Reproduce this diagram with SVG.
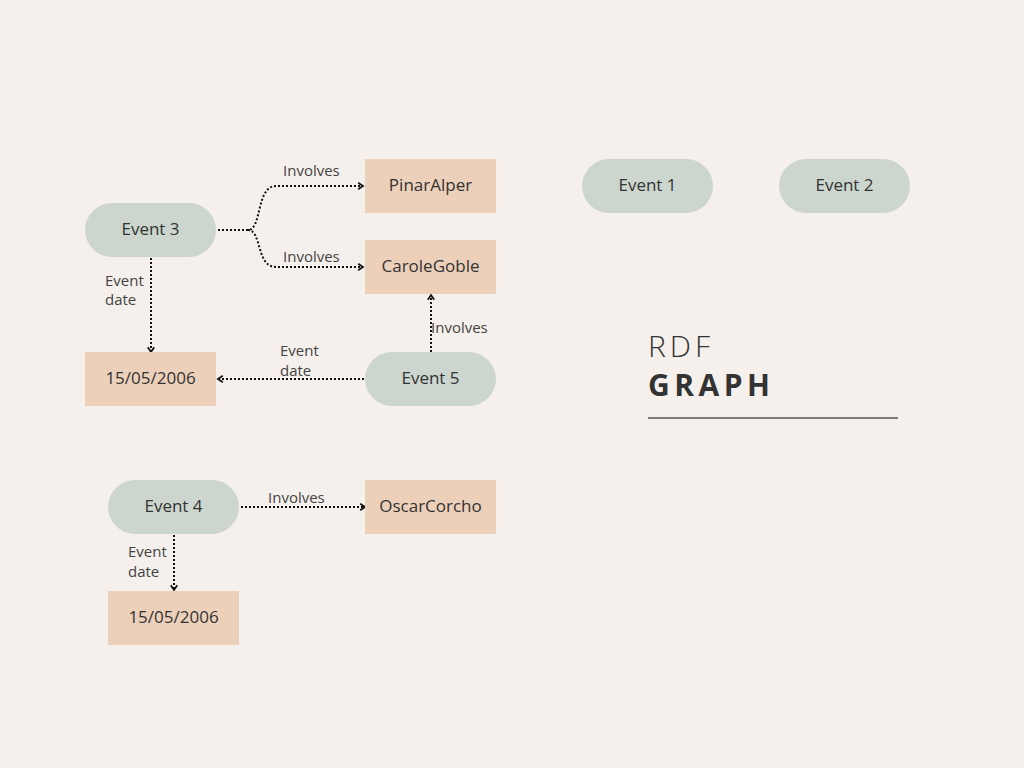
<svg xmlns="http://www.w3.org/2000/svg" width="1024" height="768" viewBox="0 0 1024 768">
<defs>
<style>
.pill{fill:#ccd6ce}
.box{fill:#edd0b9}
.nt{font-family:"Open Sans","Liberation Sans",sans-serif;font-size:17px;fill:#333;text-anchor:middle;dominant-baseline:central}
.lb{font-family:"Open Sans","Liberation Sans",sans-serif;font-size:15px;fill:#444}
.con{fill:none;stroke:#111;stroke-width:2;stroke-dasharray:2 2}
</style>
<marker id="ah" viewBox="0 0 10 10" refX="8" refY="5" markerWidth="8" markerHeight="8" markerUnits="userSpaceOnUse" orient="auto">
<path d="M2,1 L8,5 L2,9" fill="none" stroke="#111" stroke-width="2.2"/>
</marker>
</defs>
<rect width="1024" height="768" fill="#f5f0eb"/>

<g id="connectors">
<path class="con" d="M218,230 L248,230 C262,230 256,186 276,186 L363,186" marker-end="url(#ah)"/>
<path class="con" d="M248,230 C262,230 256,267 276,267 L363,267" marker-end="url(#ah)"/>
<path class="con" d="M151,258 L151,352" marker-end="url(#ah)"/>
<path class="con" d="M431,352 L431,295" marker-end="url(#ah)"/>
<path class="con" d="M364,379 L218,379" marker-end="url(#ah)"/>
<path class="con" d="M241,507 L365,507" marker-end="url(#ah)"/>
<path class="con" d="M174,535 L174,590" marker-end="url(#ah)"/>
<text class="lb" x="283" y="176">Involves</text>
<text class="lb" x="283" y="262">Involves</text>
<text class="lb" x="105" y="286">Event</text>
<text class="lb" x="105" y="305">date</text>
<text class="lb" x="431" y="333">Involves</text>
<text class="lb" x="280" y="356">Event</text>
<text class="lb" x="280" y="376">date</text>
<text class="lb" x="268" y="503">Involves</text>
<text class="lb" x="128" y="557">Event</text>
<text class="lb" x="128" y="577">date</text>
</g>

<g id="event3"><rect class="pill" x="85" y="203" width="131" height="54" rx="27"/><text class="nt" x="150.5" y="228">Event 3</text></g>
<g id="pinaralper"><rect class="box" x="365" y="159" width="131" height="54"/><text class="nt" x="430.5" y="184">PinarAlper</text></g>
<g id="carolegoble"><rect class="box" x="365" y="240" width="131" height="54"/><text class="nt" x="430.5" y="265">CaroleGoble</text></g>
<g id="event1"><rect class="pill" x="582" y="159" width="131" height="54" rx="27"/><text class="nt" x="647.5" y="184">Event 1</text></g>
<g id="event2"><rect class="pill" x="779" y="159" width="131" height="54" rx="27"/><text class="nt" x="844.5" y="184">Event 2</text></g>
<g id="date1"><rect class="box" x="85" y="352" width="131" height="54"/><text class="nt" x="150.5" y="377">15/05/2006</text></g>
<g id="event5"><rect class="pill" x="365" y="352" width="131" height="54" rx="27"/><text class="nt" x="430.5" y="377">Event 5</text></g>
<g id="event4"><rect class="pill" x="108" y="480" width="131" height="54" rx="27"/><text class="nt" x="173.5" y="505">Event 4</text></g>
<g id="oscarcorcho"><rect class="box" x="365" y="480" width="131" height="54"/><text class="nt" x="430.5" y="505">OscarCorcho</text></g>
<g id="date2"><rect class="box" x="108" y="591" width="131" height="54"/><text class="nt" x="173.5" y="616">15/05/2006</text></g>

<g id="title">
<text x="648" y="357" font-family="Open Sans, Liberation Sans, sans-serif" font-size="30" font-weight="300" letter-spacing="4" fill="#333">RDF</text>
<text x="648" y="396" font-family="Open Sans, Liberation Sans, sans-serif" font-size="30" font-weight="700" letter-spacing="4.5" fill="#333">GRAPH</text>
<line x1="648" y1="418" x2="898" y2="418" stroke="#555" stroke-width="1.5"/>
</g>
</svg>
